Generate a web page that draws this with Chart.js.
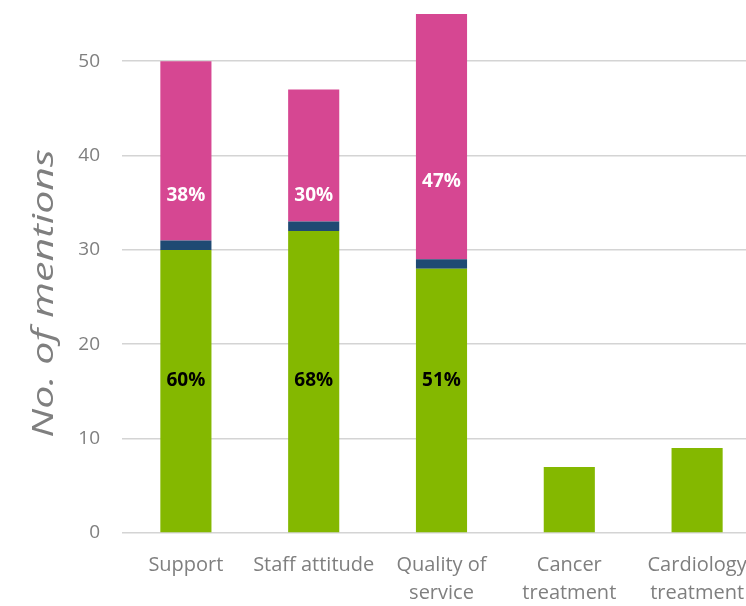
<!DOCTYPE html>
<html>
<head>
<meta charset="utf-8">
<script src="https://cdn.jsdelivr.net/npm/chart.js@4/dist/chart.umd.min.js"></script>
<style>
  html, body { margin: 0; padding: 0; background: #ffffff; overflow: hidden; }
  #wrap { position: relative; width: 761px; height: 606px; }
</style>
</head>
<body>
<div id="wrap"><canvas id="chart"></canvas></div>
<script>
// Mentions by topic, split by sentiment
const categories = [
  ['Support'],
  ['Staff attitude'],
  ['Quality of', 'service'],
  ['Cancer', 'treatment'],
  ['Cardiology', 'treatment']
];
const positive = [30, 32, 28, 7, 9];
const neutral  = [1, 1, 1, 0, 0];
const negative = [19, 14, 26, 0, 0];
const yTicks   = [0, 10, 20, 30, 40, 50];

// Vertical placement (in axis units) of the share labels
const posLabelLevel = [16.1, 16.1, 16.1];
const negLabelLevel = [35.8, 35.8, 37.2];

const GREEN = '#84b800';
const NAVY  = '#1f4a73';
const PINK  = '#d64792';
const GREY  = '#7f7f7f';
const FONT  = "'Open Sans', 'DejaVu Sans', sans-serif";

const totals = categories.map((_, i) => positive[i] + neutral[i] + negative[i]);
const pct = (v, t) => Math.round(v / t * 100) + '%';

// Share labels inside the mixed-sentiment bars
const shareLabels = {
  id: 'shareLabels',
  afterDatasetsDraw(chart) {
    const { ctx, scales: { x, y } } = chart;
    ctx.save();
    ctx.font = "bold 19px " + FONT;
    ctx.textAlign = 'center';
    ctx.textBaseline = 'middle';
    let k = 0;
    categories.forEach((_, i) => {
      if (negative[i] <= 0) return;
      const cx = x.getPixelForValue(i);
      ctx.fillStyle = '#000000';
      ctx.fillText(pct(positive[i], totals[i]), cx, y.getPixelForValue(posLabelLevel[k]));
      ctx.fillStyle = '#ffffff';
      ctx.fillText(pct(negative[i], totals[i]), cx, y.getPixelForValue(negLabelLevel[k]));
      k++;
    });
    ctx.restore();
  }
};

// Rotated, slightly widened y-axis title
const yTitle = {
  id: 'yTitle',
  afterDraw(chart) {
    const { ctx, chartArea } = chart;
    const cy = (chartArea.top + chartArea.bottom) / 2 + 20;
    ctx.save();
    ctx.translate(53, cy);
    ctx.rotate(-Math.PI / 2);
    ctx.scale(1.42, 1);
    ctx.font = "italic 29px " + FONT;
    ctx.fillStyle = GREY;
    ctx.textAlign = 'center';
    ctx.textBaseline = 'alphabetic';
    ctx.fillText('No. of mentions', 0, 0);
    ctx.restore();
  }
};

new Chart(document.getElementById('chart'), {
  type: 'bar',
  data: {
    labels: categories,
    datasets: [
      { label: 'Positive', data: positive, backgroundColor: GREEN },
      { label: 'Neutral',  data: neutral,  backgroundColor: NAVY },
      { label: 'Negative', data: negative, backgroundColor: PINK }
    ]
  },
  options: {
    responsive: true,
    maintainAspectRatio: false,
    animation: false,
    layout: { padding: { top: 14, left: 0, right: 0, bottom: 0 } },
    datasets: { bar: { barPercentage: 0.4, categoryPercentage: 1.0, borderWidth: 0 } },
    plugins: { legend: { display: false }, tooltip: { enabled: false } },
    scales: {
      x: {
        stacked: true,
        grid: { display: false, drawTicks: false },
        border: { display: false },
        ticks: {
          color: GREY,
          font: { family: FONT, size: 20, lineHeight: 1.4 },
          padding: 18,
          maxRotation: 0,
          autoSkip: false
        },
        afterFit(scale) { scale.height = 73; scale.paddingLeft = 0; scale.paddingRight = 0; }
      },
      y: {
        stacked: true,
        min: 0,
        max: 55,
        afterBuildTicks(scale) { scale.ticks = yTicks.map(v => ({ value: v })); },
        grid: { color: '#d4d4d4', lineWidth: 1.6, drawTicks: false },
        border: { display: false },
        ticks: {
          color: GREY,
          font: { family: FONT, size: 19 },
          padding: 22
        },
        afterFit(scale) { scale.width = 122; scale.paddingTop = 0; scale.paddingBottom = 0; }
      }
    }
  },
  plugins: [shareLabels, yTitle]
});
</script>
</body>
</html>
